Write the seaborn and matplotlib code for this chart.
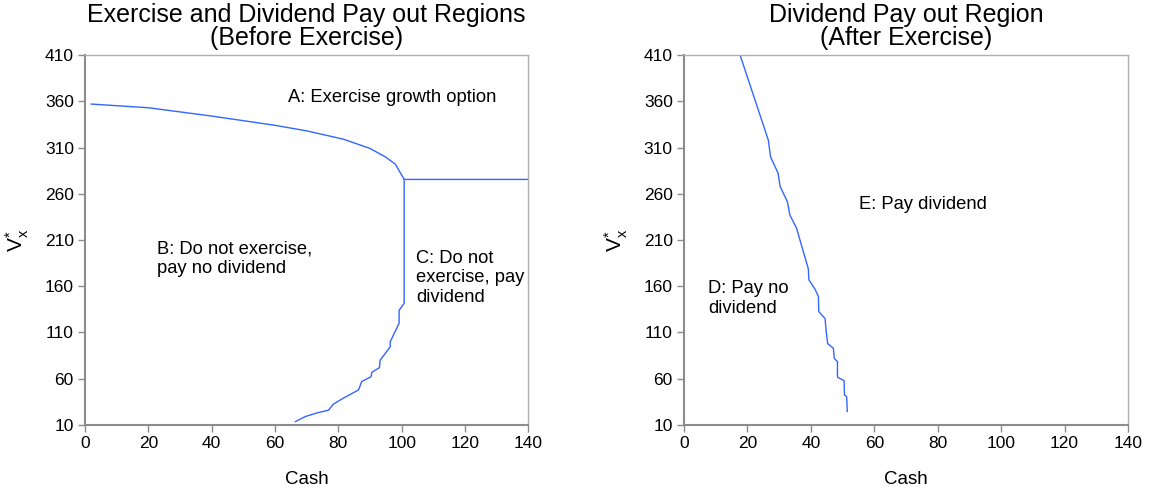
import pandas as pd
import matplotlib.pyplot as plt
import seaborn as sns

# Left panel: boundary of exercise region (upper) and dividend boundary (lower)
upper_cash = [1.9, 20, 40, 60, 70, 81.6, 90, 94.8, 98, 100.8, 140]
upper_v = [357, 353, 344, 334, 328, 319, 309, 300, 292, 275.5, 275.5]

lower_cash = [100.8, 100.8, 99.2, 99.2, 96.4, 96.4, 93.2, 93.0, 90.6, 90.3,
              87.4, 86.4, 81.6, 78.5, 76.9, 73.2, 69.5, 66.4]
lower_v = [275.5, 141.6, 134, 120, 100, 94.6, 80, 72, 67, 62,
           57, 48, 39, 32.7, 26, 23, 19, 13.6]

# Right panel: dividend boundary after exercise
after_cash = [17.7, 26.6, 27.3, 29.7, 30.3, 32.6, 33.4, 35.5, 39.2, 39.4, 41.3, 42.4,
              42.5, 44.5, 44.8, 45.3, 47.1, 47.4, 48.4, 48.4, 50.5, 50.6, 51.3, 51.5]
after_v = [410, 318, 300, 282, 268, 251.5, 237, 222.7, 179, 167, 157, 148.8,
           132.6, 125, 112.7, 98, 93, 82, 78.5, 61.6, 58, 42.4, 40.7, 24.4]

xticks = list(range(0, 141, 20))
yticks = list(range(10, 411, 50))

sns.set_style("white")
plt.rcParams['font.family'] = ['Liberation Sans', 'DejaVu Sans']
plt.rcParams['mathtext.fontset'] = 'custom'
plt.rcParams['mathtext.rm'] = 'Liberation Sans'
plt.rcParams['mathtext.it'] = 'Liberation Sans'
plt.rcParams['text.color'] = 'black'
plt.rcParams['axes.labelcolor'] = 'black'

line_color = "#3366ff"
spine_color = "#8c8c8c"

fig = plt.figure(figsize=(11.53, 4.97), dpi=100)
ax1 = fig.add_axes([0.0737, 0.1449, 0.3845, 0.7444])
ax2 = fig.add_axes([0.5932, 0.1449, 0.3851, 0.7444])

sns.lineplot(data=pd.DataFrame({"Cash": upper_cash, "V": upper_v}), x="Cash", y="V",
             sort=False, estimator=None, color=line_color, lw=1.0, ax=ax1)
sns.lineplot(data=pd.DataFrame({"Cash": lower_cash, "V": lower_v}), x="Cash", y="V",
             sort=False, estimator=None, color=line_color, lw=1.0, ax=ax1)
sns.lineplot(data=pd.DataFrame({"Cash": after_cash, "V": after_v}), x="Cash", y="V",
             sort=False, estimator=None, color=line_color, lw=1.0, ax=ax2)

titles = ["Exercise and Dividend Pay out Regions\n(Before Exercise)",
          "Dividend Pay out Region\n(After Exercise)"]

for ax, t in zip([ax1, ax2], titles):
    ax.set_xlim(0, 140)
    ax.set_ylim(10, 410)
    ax.set_xticks(xticks)
    ax.set_yticks(yticks)
    ax.set_title(t, fontsize=18, linespacing=0.95, pad=7, color="black")
    ax.set_xlabel("Cash", fontsize=13.5, labelpad=14)
    ax.set_ylabel(r"V$^{*}_{\rm x}$", fontsize=15, labelpad=10)
    ax.tick_params(axis="both", labelsize=12.5, direction="out", length=5,
                   width=1, color=spine_color, labelcolor="black",
                   left=True, bottom=True, pad=3)
    for side in ["left", "bottom"]:
        ax.spines[side].set_color(spine_color)
        ax.spines[side].set_linewidth(1.5)
    for side in ["top", "right"]:
        ax.spines[side].set_color("#b0b0b0")
        ax.spines[side].set_linewidth(1.0)

ax1.text(64, 364.6, "A: Exercise growth option", fontsize=13.2, va="center")
ax1.text(22.8, 189.5, "B: Do not exercise,\npay no dividend", fontsize=13.2, va="center")
ax1.text(104.6, 169, "C: Do not\nexercise, pay\ndividend", fontsize=13.2, va="center")
ax2.text(7.6, 147, "D: Pay no\ndividend", fontsize=13.2, va="center")
ax2.text(55.2, 248, "E: Pay dividend", fontsize=13.2, va="center")

plt.savefig("out.png", dpi=100)
